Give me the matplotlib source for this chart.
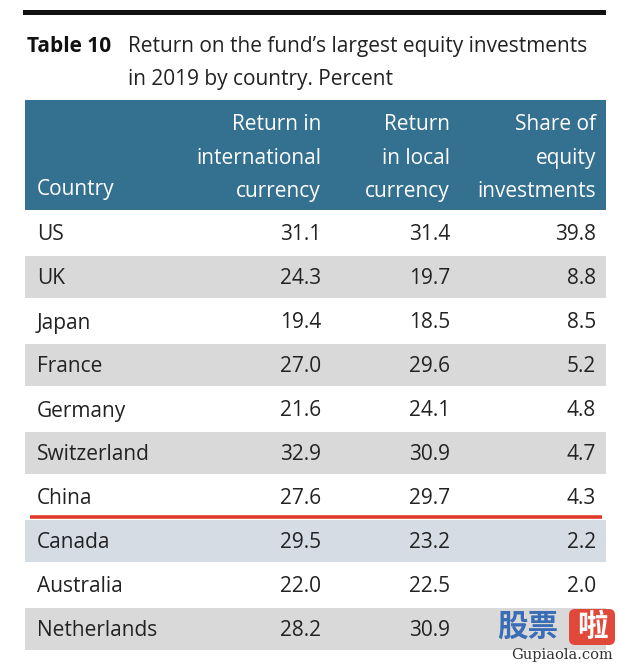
import matplotlib
matplotlib.use("Agg")
import matplotlib.pyplot as plt
from matplotlib.patches import Rectangle, FancyBboxPatch

countries = ["US", "UK", "Japan", "France", "Germany", "Switzerland", "China",
             "Canada", "Australia", "Netherlands"]
ret_intl = [31.1, 24.3, 19.4, 27.0, 21.6, 32.9, 27.6, 29.5, 22.0, 28.2]
ret_local = [31.4, 19.7, 18.5, 29.6, 24.1, 30.9, 29.7, 23.2, 22.5, 30.9]
share = [39.8, 8.8, 8.5, 5.2, 4.8, 4.7, 4.3, 2.2, 2.0, None]
headers = ["Country", "Return in\ninternational\ncurrency", "Return\nin local\ncurrency",
           "Share of\nequity\ninvestments"]
title_bold = "Table 10"
title_text = "Return on the fund’s largest equity investments\nin 2019 by country. Percent"

W, H = 619, 664
fig = plt.figure(figsize=(W / 100, H / 100), dpi=100)
ax = fig.add_axes([0, 0, 1, 1])
ax.set_xlim(0, W)
ax.set_ylim(H, 0)
ax.axis("off")

FONT = "Open Sans"
TXT = "#222222"
HEAD = "#34708f"
GREY = "#d9d9d9"
BLUEGREY = "#d5dce3"
FS = 15

left, right = 25, 606
# top rule
ax.add_patch(Rectangle((23, 10), right - 23, 4.5, color="#111111", lw=0))
# title
ax.text(27, 47, title_bold, fontsize=FS, fontweight="bold", family=FONT, color="#111111",
        va="center", ha="left")
ax.text(128, 63, title_text, fontsize=FS, family=FONT, color="#222222", va="center",
        ha="left", linespacing=1.75)

# header
head_top, head_bot = 100, 210
ax.add_patch(Rectangle((left, head_top), right - left, head_bot - head_top, color=HEAD, lw=0))
col_right = [None, 321, 450, 596]
ax.text(37, 190, headers[0], fontsize=FS, family=FONT, color="white", va="center", ha="left")
for j in range(1, 4):
    ax.text(col_right[j], 202, headers[j], fontsize=FS, family=FONT, color="white",
            va="bottom", ha="right", multialignment="right", linespacing=1.77)

# rows
row_h = 44
for i, c in enumerate(countries):
    top = head_bot + row_h * i
    if i % 2 == 1:
        col = BLUEGREY if c == "Canada" else GREY
        ax.add_patch(Rectangle((left, top + 1.5), right - left, row_h - 2, color=col, lw=0))
    yc = top + row_h / 2 + 3
    ax.text(37, yc, c, fontsize=FS, family=FONT, color=TXT, va="center", ha="left")
    vals = [ret_intl[i], ret_local[i], share[i]]
    for j, v in enumerate(vals, start=1):
        if v is None:
            continue
        ax.text(col_right[j], yc, f"{v:.1f}", fontsize=FS, family=FONT, color=TXT,
                va="center", ha="right")

# red line under China
china_idx = countries.index("China")
ry = head_bot + row_h * (china_idx + 1) - 1
ax.plot([30, 602], [ry, ry], color="#e03a2a", lw=2.6, solid_capstyle="butt")

# watermark
ax.text(497, 627, "股票", fontsize=22, fontweight="bold", family="Noto Sans CJK SC",
        color="#3a6db5", va="center", ha="left")
ax.add_patch(FancyBboxPatch((569, 609), 46, 36, boxstyle="round,pad=0,rounding_size=6",
                            color="#e0483a", lw=0))
ax.text(592, 627, "啦", fontsize=22, fontweight="bold", family="Noto Sans CJK SC",
        color="white", va="center", ha="center")
ax.text(562, 655, "Gupiaola.com", fontsize=10.5, family="DejaVu Serif", color="#333333",
        va="center", ha="center")

fig.savefig("out.png", dpi=100, facecolor="white")
